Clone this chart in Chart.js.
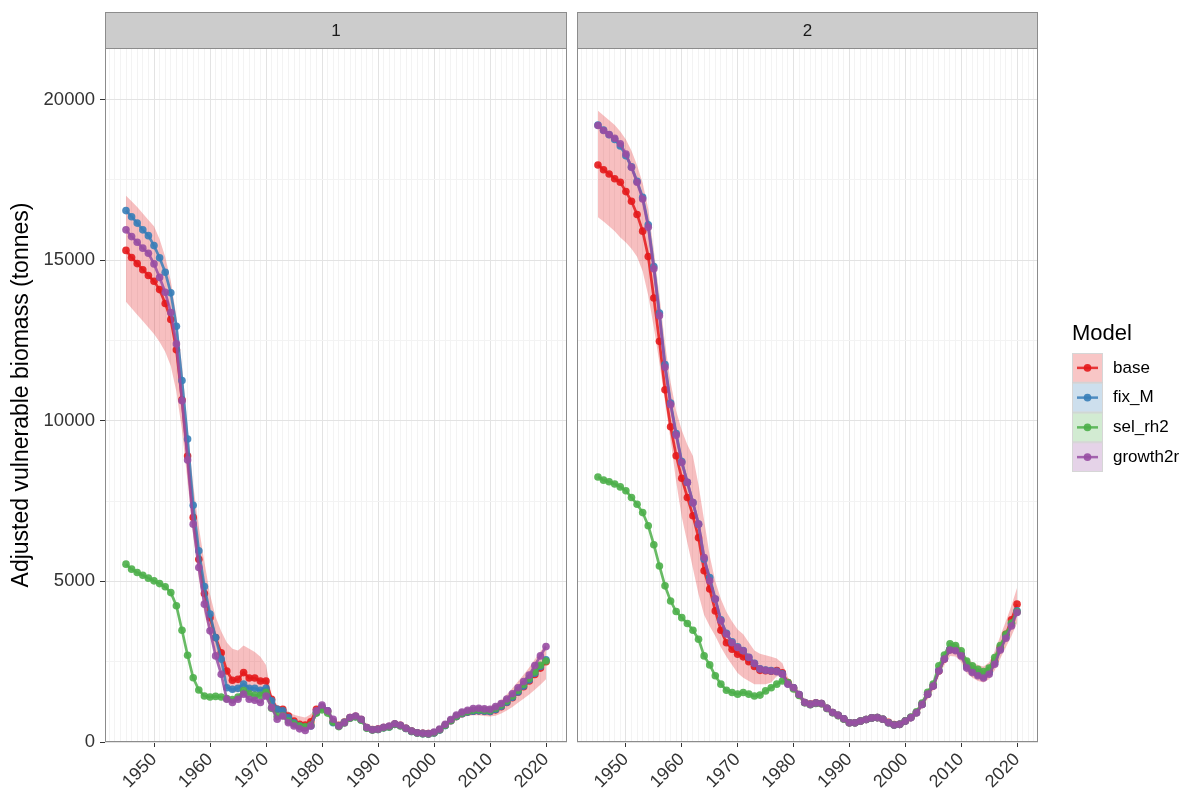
<!DOCTYPE html>
<html>
<head>
<meta charset="utf-8">
<script src="https://cdn.jsdelivr.net/npm/chart.js@4.4.1/dist/chart.umd.min.js"></script>
<style>
  body { margin: 0; background: #fff; }
  #wrap { position: relative; width: 1196px; height: 793px; }
  canvas { position: absolute; top: 0; }
  #panel1 { left: 0; }
  #panel2 { left: 572px; }
</style>
</head>
<body>
<div id="wrap">
  <canvas id="panel1" width="572" height="793"></canvas>
  <canvas id="panel2" width="624" height="793"></canvas>
</div>
<script>
// DATA
const years = []
for (let yr = 1945; yr <= 2020; yr++) years.push(yr)

const models = ["base", "fix_M", "sel_rh2", "growth2r"]
const modelColors = ["#E41A1C", "#377EB8", "#4DAF4A", "#984EA3"]
const xLabels = [1950, 1960, 1970, 1980, 1990, 2000, 2010, 2020]
const yLabels = [0, 5000, 10000, 15000, 20000]

// Panel 1
const base1 = [15300, 15080, 14890, 14700, 14520, 14340, 14080, 13650, 13150, 12210,
  10650, 8900, 6990, 5690, 4620, 3870, 3250, 2780, 2210, 1920,
  1950, 2160, 1990, 1990, 1900, 1900, 1330, 1020, 1020, 810,
  650, 550, 530, 630, 1020, 1090, 960, 630, 520, 620,
  760, 800, 700, 450, 390, 400, 450, 480, 560, 520,
  430, 340, 290, 270, 260, 290, 380, 520, 660, 790,
  880, 930, 960, 970, 960, 950, 1000, 1100, 1230, 1380,
  1550, 1720, 1900, 2100, 2300, 2500]
const fixM1 = [16540, 16350, 16150, 15940, 15760, 15450, 15070, 14620, 13980, 12940,
  11250, 9430, 7370, 5950, 4840, 3980, 3250, 2580, 1690, 1640,
  1670, 1800, 1670, 1670, 1610, 1670, 1280, 1020, 970, 760,
  600, 500, 450, 500, 910, 1090, 970, 600, 500, 610,
  750, 790, 690, 440, 380, 390, 440, 470, 550, 510,
  420, 330, 280, 260, 250, 280, 370, 510, 660, 790,
  880, 930, 960, 970, 960, 950, 1010, 1110, 1240, 1390,
  1560, 1740, 1930, 2140, 2350, 2560]
const selRh1 = [5535, 5380, 5275, 5190, 5100, 5015, 4930, 4830, 4650, 4240,
  3480, 2700, 2000, 1620, 1430, 1400, 1420, 1400, 1350, 1320,
  1400, 1600, 1500, 1450, 1450, 1550, 1050, 800, 820, 650,
  560, 500, 470, 530, 900, 1000, 900, 620, 480, 590,
  740, 780, 680, 430, 370, 390, 440, 470, 550, 500,
  420, 330, 280, 260, 250, 290, 380, 520, 670, 800,
  900, 950, 990, 1000, 990, 980, 1050, 1150, 1280, 1430,
  1610, 1790, 1980, 2180, 2390, 2520]
const growth1 = [15940, 15730, 15555, 15370, 15210, 14880, 14460, 14000, 13370, 12390,
  10620, 8780, 6780, 5430, 4290, 3460, 2680, 2110, 1330, 1230,
  1330, 1490, 1330, 1300, 1230, 1430, 1070, 710, 810, 600,
  500, 410, 360, 500, 970, 1150, 970, 710, 500, 600,
  760, 810, 710, 450, 380, 400, 460, 500, 570, 520,
  430, 340, 290, 270, 260, 310, 400, 550, 700, 840,
  930, 990, 1040, 1050, 1030, 1020, 1100, 1200, 1340, 1500,
  1690, 1880, 2080, 2380, 2680, 2970]
const baseLo1 = [13700, 13500, 13300, 13100, 12900, 12700, 12450, 12150, 11700, 10900,
  9700, 8100, 6400, 5100, 4000, 3300, 2700, 2200, 1700, 1550,
  1550, 1650, 1550, 1550, 1500, 1500, 1150, 900, 880, 700,
  560, 470, 450, 530, 900, 980, 870, 550, 450, 540,
  680, 720, 620, 380, 320, 330, 380, 410, 480, 440,
  360, 280, 230, 210, 200, 230, 310, 440, 570, 690,
  770, 810, 830, 830, 810, 790, 820, 890, 980, 1090,
  1220, 1350, 1480, 1630, 1780, 1950]
const baseHi1 = [17000, 16830, 16650, 16450, 16250, 16050, 15650, 15100, 14350, 13250,
  11700, 9800, 8000, 6700, 5600, 4600, 3900, 3450, 3100, 2900,
  2850, 3000, 2900, 2800, 2650, 2400, 1450, 1150, 1100, 950,
  850, 800, 760, 860, 1080, 1180, 1060, 720, 600, 700,
  850, 880, 780, 520, 460, 470, 520, 550, 640, 600,
  500, 400, 350, 330, 320, 350, 450, 600, 750, 890,
  990, 1050, 1090, 1110, 1110, 1110, 1180, 1310, 1480, 1670,
  1880, 2090, 2320, 2570, 2820, 3050]

// Panel 2
const base2 = [17960, 17810, 17680, 17530, 17420, 17130, 16830, 16420, 15900, 15110,
  13820, 12470, 10960, 9810, 8910, 8210, 7610, 7040, 6360, 5330,
  4760, 4080, 3480, 3090, 2890, 2730, 2650, 2500, 2350, 2230,
  2220, 2200, 2220, 2150, 1850, 1690, 1470, 1230, 1180, 1220,
  1200, 1050, 920, 830, 720, 600, 600, 650, 700, 750,
  760, 710, 610, 540, 550, 650, 760, 910, 1170, 1480,
  1740, 2210, 2580, 2880, 2870, 2720, 2380, 2240, 2150, 2100,
  2220, 2520, 2950, 3350, 3800, 4290]
const fixM2 = [19200, 19050, 18900, 18750, 18550, 18250, 17900, 17450, 16950, 16100,
  14800, 13350, 11750, 10550, 9600, 8730, 8080, 7450, 6780, 5690,
  5120, 4450, 3800, 3380, 3120, 2960, 2850, 2640, 2450, 2280,
  2240, 2220, 2200, 2120, 1810, 1690, 1480, 1230, 1170, 1210,
  1200, 1050, 920, 830, 720, 600, 600, 650, 700, 750,
  760, 710, 600, 530, 550, 650, 760, 910, 1170, 1490,
  1750, 2230, 2600, 2900, 2880, 2720, 2350, 2200, 2100, 2040,
  2160, 2470, 2900, 3280, 3680, 4080]
const selRh2 = [8250, 8150, 8100, 8030, 7940, 7820, 7610, 7400, 7140, 6730,
  6140, 5480, 4860, 4390, 4060, 3870, 3690, 3480, 3200, 2680,
  2400, 2060, 1800, 1610, 1540, 1490, 1540, 1490, 1430, 1460,
  1590, 1690, 1800, 1900, 1850, 1650, 1450, 1220, 1160, 1200,
  1190, 1040, 910, 820, 710, 600, 600, 650, 700, 750,
  760, 710, 600, 530, 550, 660, 780, 940, 1210, 1550,
  1800, 2370, 2710, 3060, 3000, 2840, 2520, 2370, 2260, 2190,
  2300, 2630, 3000, 3350, 3700, 4050]
const growth2 = [19190, 19030, 18910, 18790, 18620, 18300, 17890, 17420, 16900, 16020,
  14730, 13270, 11660, 10500, 9550, 8700, 8080, 7450, 6780, 5740,
  5020, 4450, 3770, 3360, 3090, 2940, 2840, 2630, 2440, 2270,
  2230, 2210, 2190, 2110, 1800, 1690, 1480, 1230, 1170, 1210,
  1200, 1050, 920, 830, 720, 600, 600, 650, 700, 750,
  760, 710, 600, 530, 550, 650, 760, 910, 1170, 1490,
  1740, 2210, 2580, 2860, 2840, 2680, 2300, 2160, 2060, 1990,
  2110, 2420, 2860, 3230, 3610, 4030]
const baseLo2 = [16330, 16200, 16050, 15900, 15700, 15550, 15350, 15100, 14650, 13900,
  12900, 11800, 10600, 9400, 8100, 7000, 6200, 5400, 4600, 3950,
  3600, 3300, 2950, 2650, 2400, 2150, 2000, 1900, 1800, 1800,
  1800, 1850, 2050, 2050, 1850, 1550, 1350, 1120, 1070, 1100,
  1090, 950, 830, 740, 630, 510, 510, 560, 610, 650,
  660, 610, 510, 440, 450, 540, 650, 800, 1050, 1350,
  1600, 2050, 2400, 2680, 2660, 2500, 2150, 2000, 1900, 1850,
  1950, 2230, 2600, 2950, 3300, 3700]
const baseHi2 = [19650, 19500, 19350, 19200, 19000, 18750, 18400, 17950, 17400, 16600,
  15300, 13900, 12400, 11200, 10300, 9700, 9250, 8900, 8000, 6900,
  5800, 5000, 4450, 4050, 3750, 3500, 3350, 3100, 2850, 2750,
  2700, 2650, 2600, 2450, 2000, 1800, 1600, 1330, 1280, 1320,
  1300, 1150, 1020, 930, 820, 700, 700, 750, 800, 850,
  860, 810, 710, 640, 650, 750, 860, 1020, 1290, 1610,
  1880, 2370, 2760, 3080, 3080, 2940, 2600, 2480, 2400, 2350,
  2480, 2820, 3300, 3760, 4250, 4800]

// STYLE
const fontFamily = "'Liberation Sans', Arial, Helvetica, sans-serif"
Chart.defaults.font.family = fontFamily
Chart.defaults.color = "#4D4D4D"

const majorGrid = "#E3E3E3"
const minorGrid = "#F3F3F3"
const frameColor = "#8C8C8C"

function rgba(hex, a) {
  const n = parseInt(hex.slice(1), 16)
  return `rgba(${(n >> 16) & 255}, ${(n >> 8) & 255}, ${n & 255}, ${a})`
}

function toPoints(values) {
  return values.map((v, i) => ({ x: years[i], y: v }))
}

// panel frame + facet strip on top
const facetFrame = {
  id: "facetFrame",
  afterDraw(chart, args, opts) {
    const { ctx, chartArea: a } = chart
    ctx.save()
    ctx.fillStyle = "#CCCCCC"
    ctx.fillRect(a.left, 12, a.right - a.left, a.top - 12)
    ctx.strokeStyle = frameColor
    ctx.lineWidth = 1
    ctx.strokeRect(a.left + 0.5, 12.5, a.right - a.left - 1, a.top - 12)
    ctx.strokeRect(a.left + 0.5, a.top + 0.5, a.right - a.left - 1, a.bottom - a.top - 1)
    ctx.fillStyle = "#1A1A1A"
    ctx.font = `17px ${fontFamily}`
    ctx.textAlign = "center"
    ctx.textBaseline = "middle"
    ctx.fillText(opts.label, (a.left + a.right) / 2, (12 + a.top) / 2 + 1)
    ctx.restore()
  },
}

// ggplot-like legend with ribbon box, line and point
const modelLegend = {
  id: "modelLegend",
  afterDraw(chart, args, opts) {
    if (!opts.show) return
    const { ctx, chartArea: a } = chart
    const left = a.right + 34
    const keyW = 31
    const keyH = 29.75
    const top = 353
    ctx.save()
    ctx.fillStyle = "#000"
    ctx.font = `22px ${fontFamily}`
    ctx.textAlign = "left"
    ctx.textBaseline = "alphabetic"
    ctx.fillText("Model", left, 340)
    models.forEach((m, i) => {
      const y = top + i * keyH
      ctx.fillStyle = rgba(modelColors[i], 0.25)
      ctx.fillRect(left, y, keyW, keyH)
      ctx.strokeStyle = "#D6D6D6"
      ctx.lineWidth = 1
      ctx.strokeRect(left + 0.5, y + 0.5, keyW - 1, keyH - 1)
      ctx.strokeStyle = rgba(modelColors[i], 0.85)
      ctx.lineWidth = 2.5
      ctx.beginPath()
      ctx.moveTo(left + 5, y + keyH / 2)
      ctx.lineTo(left + keyW - 5, y + keyH / 2)
      ctx.stroke()
      ctx.fillStyle = rgba(modelColors[i], 0.9)
      ctx.beginPath()
      ctx.arc(left + keyW / 2, y + keyH / 2, 3.8, 0, Math.PI * 2)
      ctx.fill()
      ctx.fillStyle = "#000"
      ctx.font = `17px ${fontFamily}`
      ctx.textBaseline = "middle"
      ctx.fillText(m, left + 41, y + keyH / 2)
    })
    ctx.restore()
  },
}

function makePanel(canvasId, label, series, lo, hi, isFirst) {
  const datasets = series.map((values, i) => ({
    label: models[i],
    data: toPoints(values),
    borderColor: rgba(modelColors[i], 0.85),
    backgroundColor: rgba(modelColors[i], 0.85),
    borderWidth: 2.7,
    pointRadius: 3.8,
    pointBorderWidth: 0,
    pointBackgroundColor: rgba(modelColors[i], 0.9),
    tension: 0,
    fill: false,
    order: 4 - i,
  }))
  datasets.push({
    label: "base_lo",
    data: toPoints(lo),
    borderWidth: 0,
    pointRadius: 0,
    fill: false,
    order: 10,
  })
  datasets.push({
    label: "base_hi",
    data: toPoints(hi),
    borderWidth: 0,
    pointRadius: 0,
    backgroundColor: rgba(modelColors[0], 0.28),
    fill: "-1",
    order: 11,
  })

  const xGrid = []
  for (let v = 1942; v <= 2023; v++) xGrid.push(v)
  const yGrid = []
  for (let v = 0; v <= 20000; v += 2500) yGrid.push(v)

  return new Chart(document.getElementById(canvasId), {
    type: "line",
    data: { datasets },
    plugins: [facetFrame, modelLegend],
    options: {
      responsive: false,
      animation: false,
      devicePixelRatio: 1,
      layout: {
        padding: isFirst
          ? { top: 48, right: 5, bottom: 0, left: 0 }
          : { top: 48, right: 158, bottom: 0, left: 5 },
      },
      plugins: {
        legend: { display: false },
        tooltip: { enabled: false },
        facetFrame: { label },
        modelLegend: { show: !isFirst },
      },
      scales: {
        x: {
          type: "linear",
          min: 1941.25,
          max: 2023.75,
          afterBuildTicks: (s) => {
            s.ticks = xGrid.map((v) => ({ value: v }))
          },
          afterFit: (s) => {
            s.height = 51
            s.paddingLeft = 0
            s.paddingRight = 0
          },
          ticks: {
            autoSkip: false,
            minRotation: 45,
            maxRotation: 45,
            padding: 2,
            color: "#333",
            font: { size: 18 },
            callback: (v) => (xLabels.includes(v) ? String(v) : ""),
          },
          grid: {
            color: (c) => (c.tick && c.tick.value % 10 === 0 ? majorGrid : minorGrid),
            tickColor: (c) => (c.tick && c.tick.value % 10 === 0 ? "#333" : "rgba(0,0,0,0)"),
            tickLength: 5,
            lineWidth: 1,
          },
          border: { display: false },
        },
        y: {
          type: "linear",
          min: 0,
          max: 21600,
          afterBuildTicks: (s) => {
            s.ticks = yGrid.map((v) => ({ value: v }))
          },
          afterFit: (s) => {
            s.width = isFirst ? 105 : 0
          },
          ticks: {
            display: isFirst,
            padding: 5,
            color: "#333",
            font: { size: 18.5 },
            callback: (v) => (yLabels.includes(v) ? String(v) : ""),
          },
          grid: {
            color: (c) => (c.tick && c.tick.value % 5000 === 0 ? majorGrid : minorGrid),
            tickColor: (c) => (c.tick && c.tick.value % 5000 === 0 ? "#333" : "rgba(0,0,0,0)"),
            tickLength: 5,
            drawTicks: isFirst,
            lineWidth: 1,
          },
          border: { display: false },
          title: {
            display: isFirst,
            text: "Adjusted vulnerable biomass (tonnes)",
            color: "#000",
            font: { size: 23 },
            padding: { top: 8, bottom: 0 },
          },
        },
      },
    },
  })
}

makePanel("panel1", "1", [base1, fixM1, selRh1, growth1], baseLo1, baseHi1, true)
makePanel("panel2", "2", [base2, fixM2, selRh2, growth2], baseLo2, baseHi2, false)
</script>
</body>
</html>
